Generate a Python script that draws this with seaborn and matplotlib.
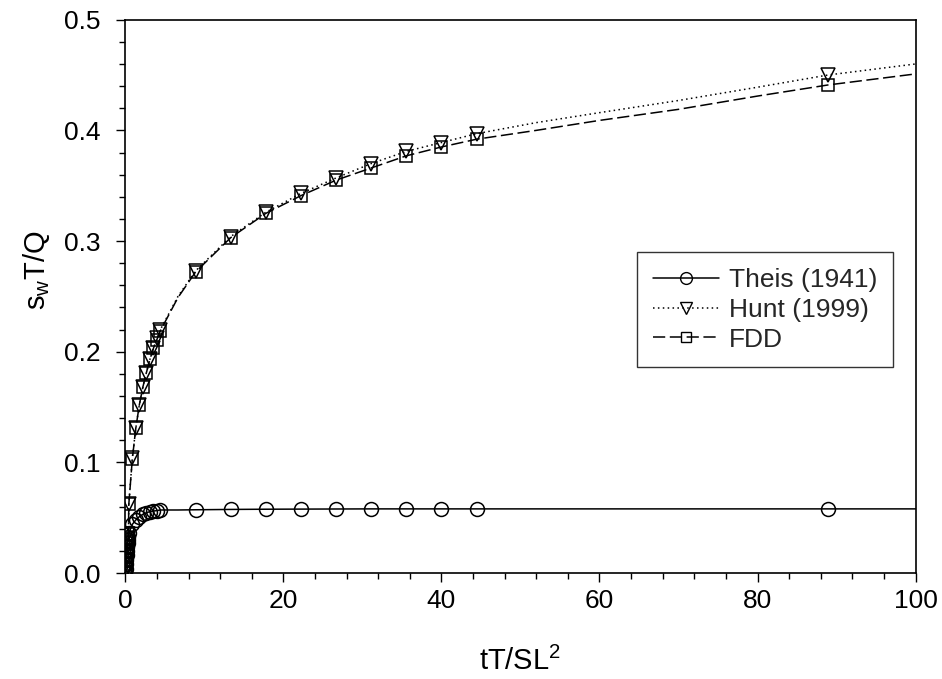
import numpy as np
import pandas as pd
import matplotlib
matplotlib.use("Agg")
import matplotlib.pyplot as plt
import seaborn as sns
from matplotlib.lines import Line2D
from matplotlib.ticker import MultipleLocator, FormatStrFormatter

# ---- data ----
t_fine = [0.0, 0.044, 0.089, 0.133, 0.178, 0.222, 0.267, 0.311, 0.356, 0.400]
t_mid = [0.444, 0.889, 1.333, 1.778, 2.222, 2.667, 3.111, 3.556, 4.000, 4.444]
t_late = [8.89, 13.33, 17.78, 22.22, 26.67, 31.11, 35.56, 40.00, 44.44, 88.89]

theis_fine = [0.0, 0.004, 0.008, 0.012, 0.016, 0.020, 0.024, 0.027, 0.030, 0.033]
theis_mid = [0.036, 0.044, 0.048, 0.051, 0.053, 0.0545, 0.0555, 0.056, 0.0565, 0.057]
theis_late = [0.0572, 0.0575, 0.0577, 0.0578, 0.0579, 0.058, 0.058, 0.058, 0.058, 0.058]

hunt_fine = [0.0, 0.004, 0.008, 0.012, 0.016, 0.020, 0.024, 0.028, 0.031, 0.035]
hunt_mid = [0.062, 0.104, 0.131, 0.152, 0.168, 0.181, 0.193, 0.203, 0.212, 0.220]
hunt_late = [0.273, 0.304, 0.326, 0.343, 0.357, 0.370, 0.381, 0.389, 0.397, 0.450]

fdd_fine = [0.0, 0.004, 0.008, 0.012, 0.016, 0.020, 0.024, 0.028, 0.031, 0.035]
fdd_mid = [0.062, 0.103, 0.131, 0.152, 0.168, 0.181, 0.193, 0.203, 0.211, 0.219]
fdd_late = [0.272, 0.303, 0.325, 0.341, 0.355, 0.366, 0.377, 0.385, 0.392, 0.441]

# extra points along the curves (between markers)
t_extra = [6.67, 52.0, 60.0, 70.0, 80.0, 100.0]
theis_extra = [0.0570, 0.058, 0.058, 0.058, 0.058, 0.058]
hunt_extra = [0.250, 0.407, 0.416, 0.427, 0.439, 0.460]
fdd_extra = [0.249, 0.400, 0.409, 0.419, 0.431, 0.451]

x_ticks = [0, 20, 40, 60, 80, 100]
y_ticks = [0.0, 0.1, 0.2, 0.3, 0.4, 0.5]

labels = ["Theis (1941)", "Hunt (1999)", "FDD"]

# ---- build tables ----
t_mark = t_fine + t_mid + t_late
marks = pd.DataFrame({
    "t": t_mark,
    "Theis": theis_fine + theis_mid + theis_late,
    "Hunt": hunt_fine + hunt_mid + hunt_late,
    "FDD": fdd_fine + fdd_mid + fdd_late,
})
extra = pd.DataFrame({"t": t_extra, "Theis": theis_extra, "Hunt": hunt_extra, "FDD": fdd_extra})
lines = pd.concat([marks, extra]).sort_values("t").reset_index(drop=True)

sns.set_theme(style="ticks")
plt.rcParams["font.family"] = ["Liberation Sans", "DejaVu Sans"]
plt.rcParams["mathtext.fontset"] = "custom"
plt.rcParams["mathtext.rm"] = "Liberation Sans"
plt.rcParams["mathtext.it"] = "Liberation Sans"

fig = plt.figure(figsize=(9.42, 6.79), dpi=100)
ax = fig.add_axes([0.133, 0.156, 0.972 - 0.133, 0.971 - 0.156])

styles = {
    "Theis": dict(ls="-", marker="o", ms=10),
    "Hunt": dict(ls=(0, (1, 2.2)), marker="v", ms=10),
    "FDD": dict(ls=(0, (8, 3)), marker="s", ms=9),
}

for key in ["Theis", "Hunt", "FDD"]:
    st = styles[key]
    sns.lineplot(data=lines, x="t", y=key, ax=ax, color="black", linestyle=st["ls"],
                 linewidth=1.1, estimator=None, sort=True)
    sns.lineplot(data=marks, x="t", y=key, ax=ax, color="black", linestyle="",
                 marker=st["marker"], markersize=st["ms"], markerfacecolor="none",
                 markeredgecolor="black", markeredgewidth=1.1, estimator=None)

ax.set_xlim(0, 100)
ax.set_ylim(0, 0.5)
ax.set_xticks(x_ticks)
ax.set_yticks(y_ticks)
ax.xaxis.set_minor_locator(MultipleLocator(4))
ax.yaxis.set_minor_locator(MultipleLocator(0.02))
ax.yaxis.set_major_formatter(FormatStrFormatter("%.1f"))
ax.tick_params(which="major", direction="out", length=6.5, width=1.0, colors="black",
               labelsize=19, pad=5)
ax.tick_params(which="minor", direction="out", length=4, width=1.0, colors="black")
ax.tick_params(axis="y", which="major", pad=11)
for s in ax.spines.values():
    s.set_visible(True)
    s.set_color("black")
    s.set_linewidth(1.2)

ax.set_xlabel(r"tT/SL$^\mathregular{2}$", fontsize=21, labelpad=24, color="black")
ax.set_ylabel(r"s$_\mathregular{w}$T/Q", fontsize=21, color="black")
ax.yaxis.set_label_coords(-0.093, 0.548)

handles = []
for key in ["Theis", "Hunt", "FDD"]:
    st = styles[key]
    handles.append(Line2D([], [], color="black", linestyle=st["ls"], linewidth=1.1,
                          marker=st["marker"], markersize=st["ms"] * 0.85,
                          markerfacecolor="none", markeredgecolor="black",
                          markeredgewidth=1.0))
leg = ax.legend(handles, labels, loc="upper right", bbox_to_anchor=(0.972, 0.58),
                fontsize=19, frameon=True, fancybox=False, handlelength=2.5,
                borderpad=0.6, labelspacing=0.22, handletextpad=0.4,
                borderaxespad=0.0)
leg.get_frame().set_edgecolor("black")
leg.get_frame().set_linewidth(1.0)

fig.savefig("out.png", dpi=100)
